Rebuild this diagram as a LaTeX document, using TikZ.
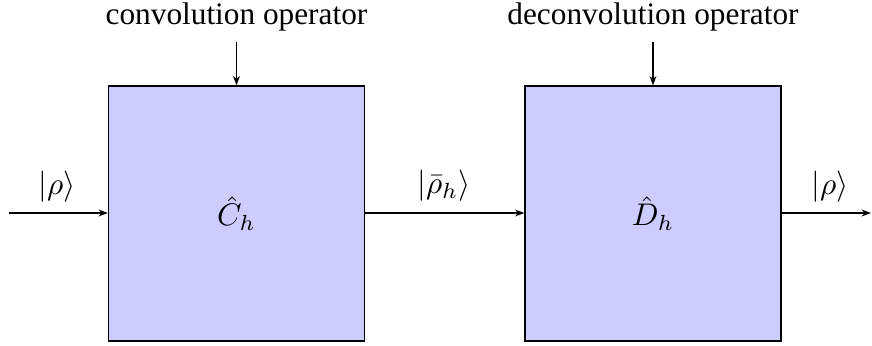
\documentclass[tikz,border=0pt]{standalone}
\usepackage{fontspec}
\setmainfont{Liberation Serif}
\usetikzlibrary{arrows.meta}
\begin{document}
\begin{tikzpicture}[x=0.3195pt,y=-0.3195pt,
  opbox/.style={draw=black,fill=blue!20,line width=0.4pt,minimum width=256*0.3195pt,minimum height=255*0.3195pt,inner sep=0pt},
  conn/.style={-{Stealth[length=3pt,width=2.2pt]},line width=0.4pt}]
\useasboundingbox (0,0) rectangle (872,345);
\node[opbox] (C) at (236.5,213.5) {$\hat{C}_h$};
\node[opbox] (D) at (653,213.5) {$\hat{D}_h$};
\coordinate (in) at (9,213);
\coordinate (out) at (871,213);
\coordinate (ct) at (236.5,42);
\coordinate (dt) at (653,42);
\draw[conn] (in) -- (C.west |- in);
\draw[conn] (C.east |- in) -- (D.west |- in);
\draw[conn] (D.east |- in) -- (out);
\draw[conn] (ct) -- (C.north);
\draw[conn] (dt) -- (D.north);
\node (lc) at (236.5,17) {convolution operator};
\node (ld) at (653,17) {deconvolution operator};
\node (l1) at (57,187) {$|\rho\rangle$};
\node (l2) at (444,186) {$|\bar{\rho}_h\rangle$};
\node (l3) at (830,187) {$|\rho\rangle$};
\end{tikzpicture}
\end{document}
